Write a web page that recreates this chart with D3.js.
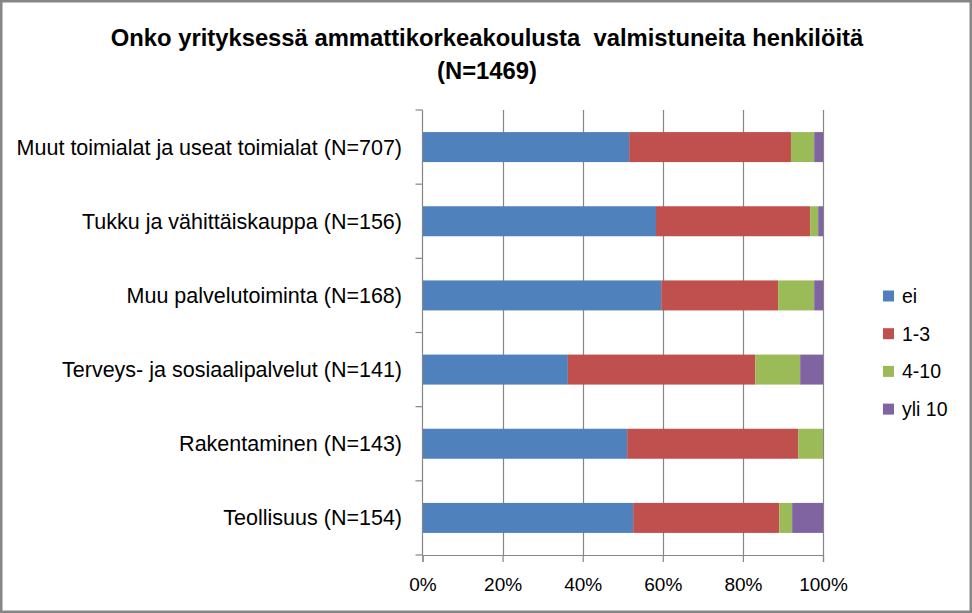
<!DOCTYPE html>
<html>
<head>
<meta charset="utf-8">
<script src="https://cdn.jsdelivr.net/npm/d3@7"></script>
<style>
  html, body { margin: 0; padding: 0; background: #fff; }
  svg { display: block; }
  text { font-family: "Liberation Sans", Arial, sans-serif; fill: #000; }
</style>
</head>
<body>
<svg id="chart" width="972" height="613"></svg>
<script>
// ---- Data ----
const titleLines = ["Onko yrityksessä ammattikorkeakoulusta  valmistuneita henkilöitä", "(N=1469)"];
const categories = [
  "Muut toimialat ja useat toimialat (N=707)",
  "Tukku ja vähittäiskauppa (N=156)",
  "Muu palvelutoiminta (N=168)",
  "Terveys- ja sosiaalipalvelut (N=141)",
  "Rakentaminen (N=143)",
  "Teollisuus (N=154)"
];
const seriesNames = ["ei", "1-3", "4-10", "yli 10"];
const seriesColors = ["#4F81BD", "#C0504D", "#9BBB59", "#8064A2"];
const valuesEi    = [51.6, 58.3, 59.6, 36.3, 51.1, 52.6];
const values1to3  = [40.4, 38.5, 29.2, 46.8, 42.7, 36.5];
const values4to10 = [5.8, 2.0, 9.0, 11.2, 6.2, 3.2];
const valuesYli10 = [2.2, 1.2, 2.2, 5.7, 0.0, 7.7];
const xTicks = [0, 20, 40, 60, 80, 100];

// ---- Build table ----
const seriesValues = [valuesEi, values1to3, values4to10, valuesYli10];
const rows = categories.map((c, i) => {
  const r = { cat: c };
  seriesNames.forEach((s, j) => r[s] = seriesValues[j][i]);
  return r;
});
const stacked = d3.stack().keys(seriesNames).offset(d3.stackOffsetExpand)(rows);

const svg = d3.select("#chart");
const W = 972, H = 613;
const plot = { left: 422.5, right: 823, top: 110, bottom: 555 };
const axisColor = "#868686";

// Outer border
svg.append("rect").attr("x", 1.25).attr("y", 1.25).attr("width", W - 2.5).attr("height", H - 2.5)
  .attr("fill", "#fff").attr("stroke", axisColor).attr("stroke-width", 2.5);

const x = d3.scaleLinear().domain([0, 1]).range([plot.left, plot.right]);
const y = d3.scaleBand().domain(categories).range([plot.top, plot.bottom])
  .paddingInner(0.5955).paddingOuter(0.5955 / 2);

// Gridlines
svg.append("g").selectAll("line").data(xTicks.slice(1)).join("line")
  .attr("x1", d => Math.round(x(d / 100)) + 0.5).attr("x2", d => Math.round(x(d / 100)) + 0.5)
  .attr("y1", plot.top).attr("y2", plot.bottom)
  .attr("stroke", axisColor).attr("stroke-width", 1.2);

// Bars
svg.append("g").selectAll("g").data(stacked).join("g")
  .attr("fill", (d, i) => seriesColors[i])
  .selectAll("rect").data(d => d).join("rect")
  .attr("x", d => x(d[0]))
  .attr("width", d => Math.max(0, x(d[1]) - x(d[0])))
  .attr("y", d => y(d.data.cat))
  .attr("height", y.bandwidth());

// X axis
const xAxis = d3.axisBottom(x).tickValues(xTicks.map(d => d / 100))
  .tickFormat(d => Math.round(d * 100) + "%").tickSize(7).tickPadding(16);
const gx = svg.append("g").attr("transform", `translate(0,${plot.bottom})`).call(xAxis);
gx.select(".domain").attr("stroke", axisColor).attr("stroke-width", 1.2);
gx.selectAll(".tick line").attr("stroke", axisColor).attr("stroke-width", 1.2);
gx.selectAll(".tick text").attr("font-size", 19).attr("font-family", "Liberation Sans, Arial, sans-serif").attr("fill", "#000");

// Y axis (category boundary ticks)
const bounds = d3.range(categories.length + 1).map(i => plot.top + i * y.step());
const gy = svg.append("g");
gy.append("line").attr("x1", plot.left).attr("x2", plot.left).attr("y1", plot.top).attr("y2", plot.bottom)
  .attr("stroke", axisColor).attr("stroke-width", 1.2);
gy.selectAll("line.tk").data(bounds).join("line").attr("class", "tk")
  .attr("x1", plot.left - 7).attr("x2", plot.left).attr("y1", d => d).attr("y2", d => d)
  .attr("stroke", axisColor).attr("stroke-width", 1.2);
gy.selectAll("text").data(categories).join("text")
  .attr("x", 402).attr("y", d => y(d) + y.bandwidth() / 2).attr("dy", "0.35em")
  .attr("text-anchor", "end").attr("font-size", 21.5).text(d => d);

// Title
svg.append("g").selectAll("text").data(titleLines).join("text")
  .attr("x", 487).attr("y", (d, i) => 46 + i * 33)
  .attr("text-anchor", "middle").attr("font-size", 23.8).attr("font-weight", "bold")
  .style("white-space", "pre").text(d => d);

// Legend
const lg = svg.append("g").selectAll("g").data(seriesNames).join("g")
  .attr("transform", (d, i) => `translate(883,${296 + i * 37.7})`);
lg.append("rect").attr("x", 0).attr("y", -5.5).attr("width", 11).attr("height", 11)
  .attr("fill", (d, i) => seriesColors[i]);
lg.append("text").attr("x", 19).attr("y", 0).attr("dy", "0.35em").attr("font-size", 19.5).text(d => d);
</script>
</body>
</html>
